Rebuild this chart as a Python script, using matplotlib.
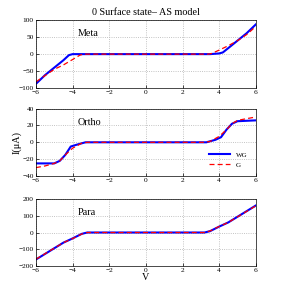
import numpy as np
import matplotlib
matplotlib.use("Agg")
import matplotlib.pyplot as plt

plt.rcParams['font.family'] = ['Liberation Serif', 'DejaVu Serif']
plt.rcParams['font.size'] = 5.5

# Meta
meta_wg_v = [-6, -5.5, -5, -4.5, -4.2, -4, -3.5, 3.5, 4, 4.2, 4.5, 5, 5.5, 6]
meta_wg_i = [-88, -62, -40, -18, -3, 0, 0, 0, 2, 5, 18, 40, 62, 88]
meta_g_v = [-6, -5, -4.5, -4, -3.6, -3.4, 3.4, 3.6, 4, 4.5, 5, 5.5, 6]
meta_g_i = [-82, -45, -32, -16, -3, 0, 0, 2, 12, 25, 40, 58, 82]

# Ortho
ortho_wg_v = [-6, -5, -4.7, -4.4, -4.1, -3.8, -3.3, 3.3, 3.8, 4.1, 4.4, 4.7, 5, 6]
ortho_wg_i = [-25, -25, -22, -15, -5, -3, 0, 0, 3, 6, 15, 22, 25, 26]
ortho_g_v = [-6, -5.5, -5, -4.7, -4.4, -4, -3.5, -3.2, 3.2, 3.5, 4, 4.4, 4.7, 5, 5.5, 6]
ortho_g_i = [-30, -28, -25, -22, -15, -7, -1, 0, 0, 1, 7, 15, 22, 26, 28, 30]

# Para
para_wg_v = [-6, -4.5, -4, -3.5, -3.2, 3.2, 3.5, 4, 4.5, 6]
para_wg_i = [-160, -60, -35, -8, 0, 0, 8, 35, 60, 160]
para_g_v = [-6, -4.5, -4, -3.5, -3.2, 3.2, 3.5, 4, 4.5, 6]
para_g_i = [-158, -60, -36, -9, 0, 0, 9, 36, 60, 158]

panels = [
    ("Meta", meta_wg_v, meta_wg_i, meta_g_v, meta_g_i, (-100, 100), [-100, -50, 0, 50, 100]),
    ("Ortho", ortho_wg_v, ortho_wg_i, ortho_g_v, ortho_g_i, (-40, 40), [-40, -20, 0, 20, 40]),
    ("Para", para_wg_v, para_wg_i, para_g_v, para_g_i, (-200, 200), [-200, -100, 0, 100, 200]),
]

fig = plt.figure(figsize=(2.83, 2.91), dpi=100)
bottoms = [0.698, 0.395, 0.085]
axs = []
for k, (name, wv, wi, gv, gi, ylim, yt) in enumerate(panels):
    ax = fig.add_axes([0.127, bottoms[k], 0.777, 0.232])
    ax.plot(wv, wi, color='blue', lw=1.5, label='WG')
    ax.plot(gv, gi, color='red', lw=0.9, ls=(0, (4, 2.5)), label='G')
    ax.set_xlim(-6, 6)
    ax.set_ylim(*ylim)
    ax.set_xticks([-6, -4, -2, 0, 2, 4, 6])
    ax.set_yticks(yt)
    ax.grid(True, color='#b0b0b0', ls=':', lw=0.6)
    ax.tick_params(direction='in', length=2, width=0.5, pad=1.5, labelsize=5.3)
    for s in ax.spines.values():
        s.set_linewidth(0.5)
    ax.text(0.19, 0.8, name, transform=ax.transAxes, fontsize=7.3, va='center')
    axs.append(ax)

axs[0].set_title("0 Surface state\u2013 AS model", fontsize=7.3, pad=4)
axs[1].set_ylabel("I(\u03bcA)", fontsize=7.3, labelpad=1)
axs[1].legend(loc='lower right', frameon=False, fontsize=5, handlelength=3,
              borderaxespad=0.8, labelspacing=0.6)
axs[2].set_xlabel("V", fontsize=7.3, labelpad=0)

fig.savefig("out.png", dpi=100)
